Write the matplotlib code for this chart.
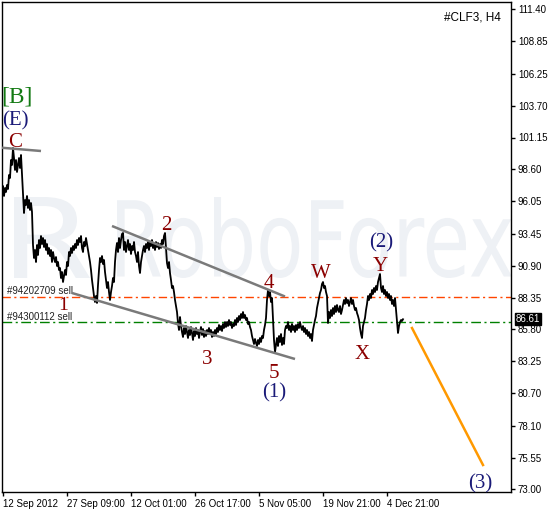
import numpy as np
import matplotlib
matplotlib.use("Agg")
import matplotlib.pyplot as plt
from matplotlib.textpath import TextPath
from matplotlib.patches import PathPatch
from matplotlib.font_manager import FontProperties
from matplotlib.transforms import Affine2D, IdentityTransform

# ---------------- data ----------------
closes = [
    96.79, 97.27, 96.47, 97.11, 96.79, 97.35, 97.03, 98.15, 97.91, 99.35,
    98.95, 100.31, 99.51, 98.55, 99.35, 98.39, 98.95, 99.51, 98.71, 99.75,
    98.15, 96.55, 95.11, 96.15, 95.75, 96.47, 95.51, 96.15, 95.35, 95.91,
    95.19, 92.55, 91.51, 92.15, 91.19, 92.55, 91.75, 92.95, 92.31, 93.27,
    92.63, 93.11, 92.39, 92.95, 92.15, 92.63, 91.83, 92.31, 91.67, 92.15,
    91.19, 91.99, 91.51, 91.19, 91.59, 90.87, 91.19, 90.55, 90.71, 89.91,
    90.39, 89.59, 90.07, 90.55, 90.15, 91.19, 90.87, 91.99, 91.67, 92.31,
    91.91, 92.47, 92.15, 92.63, 92.31, 92.95, 92.55, 93.11, 92.79, 93.27,
    92.31, 91.99, 92.79, 92.47, 93.11, 92.63, 92.15, 91.67, 91.19, 90.55,
    89.75, 89.11, 88.47, 87.99, 88.47, 87.91, 89.35, 90.55, 91.51, 91.19,
    91.67, 91.03, 91.35, 90.39, 89.75, 89.11, 89.59, 88.79, 88.15, 88.79,
    89.27, 89.91, 89.59, 91.19, 92.15, 92.71, 91.99, 93.11, 92.31, 92.95,
    93.43, 93.51, 92.15, 92.79, 91.99, 92.47, 92.95, 92.15, 92.63, 91.83,
    92.47, 92.15, 92.79, 91.99, 91.67, 91.19, 91.99, 90.87, 90.31, 91.19,
    91.67, 92.15, 92.47, 91.99, 92.63, 92.31, 92.79, 92.15, 92.79, 92.47,
    92.95, 92.31, 92.63, 92.15, 92.79, 92.39, 92.71, 92.23, 92.63, 92.31,
    92.95, 92.63, 93.27, 93.51, 92.31, 91.11, 90.71, 91.19, 90.31, 89.75,
    89.11, 89.27, 88.79, 88.15, 87.67, 87.19, 86.31, 85.75, 86.79, 86.07,
    85.59, 85.19, 85.91, 85.43, 86.07, 85.59, 85.11, 85.75, 85.35, 85.99,
    85.51, 84.95, 85.67, 85.27, 85.91, 85.43, 85.75, 85.11, 85.59, 85.99,
    85.35, 85.83, 85.19, 85.67, 85.27, 85.75, 85.43, 85.91, 85.51, 85.75,
    85.19, 85.59, 85.27, 85.75, 85.43, 85.91, 85.59, 86.15, 85.75, 86.07,
    85.67, 86.23, 85.91, 86.39, 85.99, 86.39, 86.07, 86.55, 86.15, 86.39,
    85.91, 86.23, 86.07, 86.55, 86.15, 86.71, 86.39, 86.87, 86.55, 87.03,
    86.71, 87.19, 86.71, 86.95, 86.55, 86.71, 86.23, 86.39, 85.99, 85.75,
    85.27, 84.95, 84.63, 85.03, 84.71, 84.47, 84.95, 84.63, 85.11, 84.79,
    85.27, 85.11, 85.75, 86.15, 86.71, 88.15, 88.95, 88.47, 88.79, 87.99,
    88.31, 86.55, 84.95, 83.99, 84.55, 85.11, 84.47, 85.27, 84.79, 85.43,
    84.55, 85.11, 84.63, 85.75, 86.07, 85.91, 86.39, 85.75, 86.07, 85.59,
    86.23, 85.75, 86.07, 85.59, 86.15, 85.75, 86.23, 85.91, 86.39, 85.99,
    85.75, 86.07, 85.59, 85.91, 85.43, 85.75, 85.27, 85.59, 85.11, 85.43,
    84.87, 85.75, 86.15, 86.55, 86.87, 87.51, 87.91, 88.31, 88.71, 88.95,
    89.43, 89.59, 89.11, 89.27, 88.79, 88.47, 86.31, 87.19, 86.71, 87.35,
    86.87, 87.51, 87.03, 87.67, 87.19, 87.75, 87.35, 87.19, 87.67, 87.03,
    87.35, 87.75, 88.15, 87.83, 88.31, 87.91, 88.15, 87.67, 87.99, 88.31,
    87.83, 88.15, 87.67, 87.35, 87.51, 87.11, 86.87, 86.55, 85.91, 85.43,
    85.11, 86.07, 86.39, 86.71, 87.35, 87.83, 88.47, 88.15, 88.63, 88.31,
    88.95, 88.63, 89.11, 88.79, 89.27, 88.95, 89.59, 89.91, 90.23, 89.11,
    88.79, 89.27, 88.63, 88.95, 88.47, 88.79, 88.31, 88.63, 88.15, 88.47,
    87.83, 88.15, 87.67, 88.31, 87.35, 86.39, 85.51, 86.07, 86.39, 86.55,
    86.47, 86.61,
]
bars = np.arange(len(closes))

y_ticks = [111.40, 108.85, 106.25, 103.70, 101.15, 98.60, 96.05, 93.45,
           90.90, 88.35, 85.80, 83.25, 80.70, 78.10, 75.55, 73.00]
x_tick_bars = [1, 65, 129, 193, 257, 321, 385]
x_tick_labels = ["12 Sep 2012", "27 Sep 09:00", "12 Oct 01:00", "26 Oct 17:00",
                 "5 Nov 05:00", "19 Nov 21:00", "4 Dec 21:00"]

last_price = 86.61
order1_level, order1_name = 88.43, "#94202709 sell"
order2_level, order2_name = 86.38, "#94300112 sell"

# trend lines: (bar0, price0, bar1, price1)
line_c = (0, 100.33, 39, 100.07)
line_upper = (110, 94.07, 283, 88.43)
line_lower = (70, 88.71, 293, 83.43)
line_forecast = (410, 85.91, 481, 74.95)

# wave labels: text, bar, price, color, size
RED = "#8b0000"
NAVY = "#1a1a78"
GREEN = "#137a13"
wave_labels = [
    ("[B]", 14.5, 104.63, GREEN, 17),
    ("(E)", 13, 102.71, NAVY, 15),
    ("C", 13, 101.03, RED, 15),
    ("1", 61, 87.99, RED, 14),
    ("2", 164, 94.39, RED, 15),
    ("3", 205, 83.67, RED, 15),
    ("4", 267, 89.75, RED, 15),
    ("5", 272, 82.55, RED, 15),
    ("(1)", 272, 80.95, NAVY, 15),
    ("W", 319, 90.55, RED, 15),
    ("X", 360, 84.07, RED, 15),
    ("Y", 378, 91.11, RED, 15),
    ("(2)", 379, 92.95, NAVY, 15),
    ("(3)", 478, 73.67, NAVY, 15),
]

# ---------------- figure ----------------
W, H = 552, 511
fig = plt.figure(figsize=(W / 100, H / 100), dpi=100)
ax = fig.add_axes([2 / W, (H - 492) / H, 509 / W, 490 / H])
ax.set_xlim(0, 509)
ax.set_ylim(72.79, 111.99)

# watermark (faint, behind everything)
wm_color = "#eef1f5"
fp = FontProperties(family="DejaVu Sans", weight="normal")
def add_wm(text, x0, x1, ytop, ybot):
    tp = TextPath((0, 0), text, size=100, prop=fp)
    bb = tp.get_extents()
    tr = (Affine2D().translate(-bb.x0, -bb.y0)
          .scale((x1 - x0) / bb.width, (ybot - ytop) / bb.height)
          .translate(x0, H - ybot))
    p = PathPatch(tr.transform_path(tp), transform=IdentityTransform(),
                  fc=wm_color, ec="none", zorder=0.5)
    ax.add_patch(p)
add_wm("R", 14, 90, 197, 278)
add_wm("RoboForex", 117, 512, 197, 278)

# price line
ax.plot(bars, closes, color="black", lw=1.3, zorder=3)

# order lines
ax.axhline(order1_level, color="#ff4500", lw=1, ls=(0, (6, 2.5, 1.5, 2.5)), zorder=2)
ax.axhline(order2_level, color="#008000", lw=1, ls=(0, (7, 2.5, 1.5, 2.5)), zorder=2)
ax.text(5, 88.59, order1_name, fontsize=7, family="Liberation Sans",
        color="#222222", va="baseline", ha="left", zorder=4)
ax.text(5, 86.52, order2_name, fontsize=7, family="Liberation Sans",
        color="#222222", va="baseline", ha="left", zorder=4)

# trend lines
for (b0, p0, b1, p1) in (line_c, line_upper, line_lower):
    ax.plot([b0, b1], [p0, p1], color="#7a7a7a", lw=1.8, zorder=4, solid_capstyle="butt")
b0, p0, b1, p1 = line_forecast
ax.plot([b0, b1], [p0, p1], color="#ff9900", lw=1.8, zorder=4)

# wave labels (small downward nudge so glyphs sit centred on the anchor)
for txt, b, p, c, s in wave_labels:
    ax.annotate(txt, xy=(b, p), xytext=(0, -2.2), textcoords="offset points",
                color=c, fontsize=s, family="Liberation Serif",
                ha="center", va="center", zorder=5)

# symbol label
ax.text(0.98, 0.98, "#CLF3, H4", transform=ax.transAxes, fontsize=8.5,
        family="Liberation Sans", ha="right", va="top", color="black")

# axes styling
for sp in ax.spines.values():
    sp.set_color("black")
    sp.set_linewidth(1)
ax.yaxis.tick_right()
ax.set_yticks(y_ticks)
ax.set_yticklabels([f"{v:.2f}" for v in y_ticks])
ax.set_xticks(x_tick_bars)
ax.set_xticklabels(x_tick_labels, ha="left")
ax.tick_params(axis="both", direction="out", length=3, width=1, colors="black",
               labelsize=7, pad=2)
for lab in ax.get_xticklabels() + ax.get_yticklabels():
    lab.set_family("Liberation Sans")

# current price tag
ax.annotate(f"{last_price:.2f}", xy=(1, last_price), xycoords=("axes fraction", "data"),
            xytext=(3.5, 0), textcoords="offset points", va="center", ha="left",
            color="white", fontsize=7, family="Liberation Sans", annotation_clip=False,
            bbox=dict(boxstyle="square,pad=0.12", fc="black", ec="black"), zorder=10)

fig.savefig("out.png", dpi=100)
